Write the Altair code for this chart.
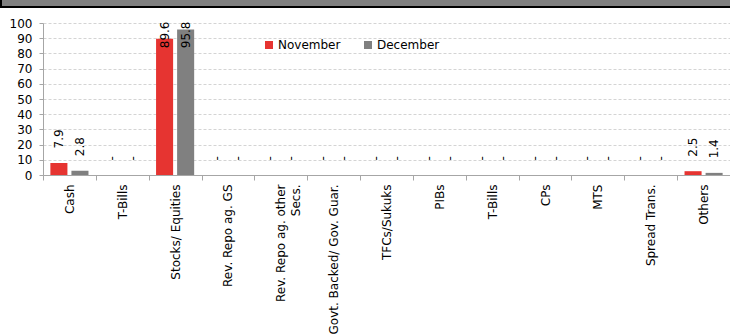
import json

import altair as alt
import pandas as pd

# Asset categories along the x axis (T-Bills appears twice in the breakdown)
CATEGORIES = [
    "Cash",
    "T-Bills",
    "Stocks/ Equities",
    "Rev. Repo ag. GS",
    "Rev. Repo ag. other\nSecs.",
    "Govt. Backed/ Gov. Guar.",
    "TFCs/Sukuks",
    "PIBs",
    "T-Bills",
    "CPs",
    "MTS",
    "Spread Trans.",
    "Others",
]
SERIES = ["November", "December"]
NOVEMBER = [7.9, 0, 89.6, 0, 0, 0, 0, 0, 0, 0, 0, 0, 2.5]
DECEMBER = [2.8, 0, 95.8, 0, 0, 0, 0, 0, 0, 0, 0, 0, 1.4]
Y_TICKS = [0, 10, 20, 30, 40, 50, 60, 70, 80, 90, 100]

COLORS = ["#E63431", "#808080"]
FONT = "DejaVu Sans"
NBSP = "\u00a0"

rows = []
for i, cat in enumerate(CATEGORIES):
    for name, vals in zip(SERIES, [NOVEMBER, DECEMBER]):
        v = vals[i]
        rows.append({
            "key": f"{i:02d}",
            "series": name,
            "value": v,
            "label": "-" if v == 0 else f"{v:.1f}",
        })
df = pd.DataFrame(rows)


def axis_label(text):
    # centre a short second line under the first one (labels are right-aligned)
    lines = text.split("\n")
    if len(lines) == 2:
        lines[1] = lines[1] + NBSP * 11
    return lines


label_lookup = json.dumps([axis_label(c) for c in CATEGORIES], ensure_ascii=False)

x_enc = alt.X(
    "key:N",
    sort=None,
    scale=alt.Scale(paddingInner=0, paddingOuter=0),
    axis=alt.Axis(
        title=None,
        labelExpr=f"{label_lookup}[toNumber(datum.value)]",
        labelAngle=-90,
        tickBand="extent",
        tickSize=5,
        labelPadding=4,
        labelLineHeight=15,
        labelLimit=0,
        grid=False,
    ),
)
xoff_enc = alt.XOffset(
    "series:N", sort=SERIES,
    scale=alt.Scale(paddingInner=0.19, paddingOuter=0.35),
)
y_scale = alt.Scale(domain=[0, 100], nice=False)
y_axis = alt.Axis(
    title=None,
    values=Y_TICKS,
    tickCount=11,
    labelOverlap=False,
    tickSize=4,
    labelPadding=7,
    grid=True,
    gridColor="#D4D4D4",
    gridDash=[3, 2],
)
y_enc = alt.Y("value:Q", scale=y_scale, axis=y_axis)
color_enc = alt.Color(
    "series:N",
    sort=SERIES,
    scale=alt.Scale(domain=SERIES, range=COLORS),
    legend=alt.Legend(
        title=None,
        orient="none",
        legendX=220,
        legendY=16,
        direction="horizontal",
        symbolType="square",
        symbolSize=64,
        symbolStrokeWidth=0,
        labelFontSize=12,
        labelOffset=3,
        columnPadding=21,
    ),
)

base = alt.Chart(df)

bars = base.mark_bar().encode(x=x_enc, xOffset=xoff_enc, y=y_enc, color=color_enc)

text_style = dict(angle=270, baseline="middle", font=FONT, fontSize=12, color="black")

labels_low = base.transform_filter("datum.value < 80").mark_text(
    align="left", dx=14.5, **text_style
).encode(x=x_enc, xOffset=xoff_enc, y=y_enc, text="label:N")

# tall bars: labels pulled inside the plot, hanging from the top of the axis
labels_high = base.transform_filter("datum.value >= 80").mark_text(
    align="right", dx=1.5, **text_style
).encode(
    x=x_enc, xOffset=xoff_enc,
    y=alt.YDatum(100, scale=y_scale, axis=y_axis),
    text="label:N",
)

# header strip above the plot
one = pd.DataFrame({"k": [0]})
header = alt.Chart(one).mark_rect(color="#808080", strokeWidth=0).encode(
    x=alt.value(-43), x2=alt.value(687), y=alt.value(-23), y2=alt.value(-17)
)
header_line = alt.Chart(one).mark_rect(color="black", strokeWidth=0).encode(
    x=alt.value(-43), x2=alt.value(687), y=alt.value(-17), y2=alt.value(-15)
)
header_edge = alt.Chart(one).mark_rect(color="black", strokeWidth=0).encode(
    x=alt.value(-43), x2=alt.value(-41), y=alt.value(-23), y2=alt.value(-15)
)

chart = (
    alt.layer(header, header_line, header_edge, bars, labels_low, labels_high)
    .properties(
        width=687,
        height=152,
        autosize=alt.AutoSizeParams(type="none"),
        padding={"left": 43, "top": 23, "right": 0, "bottom": 161},
        background="white",
    )
    .configure_view(strokeWidth=0)
    .configure_axis(
        labelFont=FONT,
        labelFontSize=12,
        labelColor="black",
        domainColor="#A6A6A6",
        tickColor="#A6A6A6",
    )
    .configure_legend(labelFont=FONT, labelColor="black")
)

chart.save("out.html", embed_options={"renderer": "svg", "actions": False})
